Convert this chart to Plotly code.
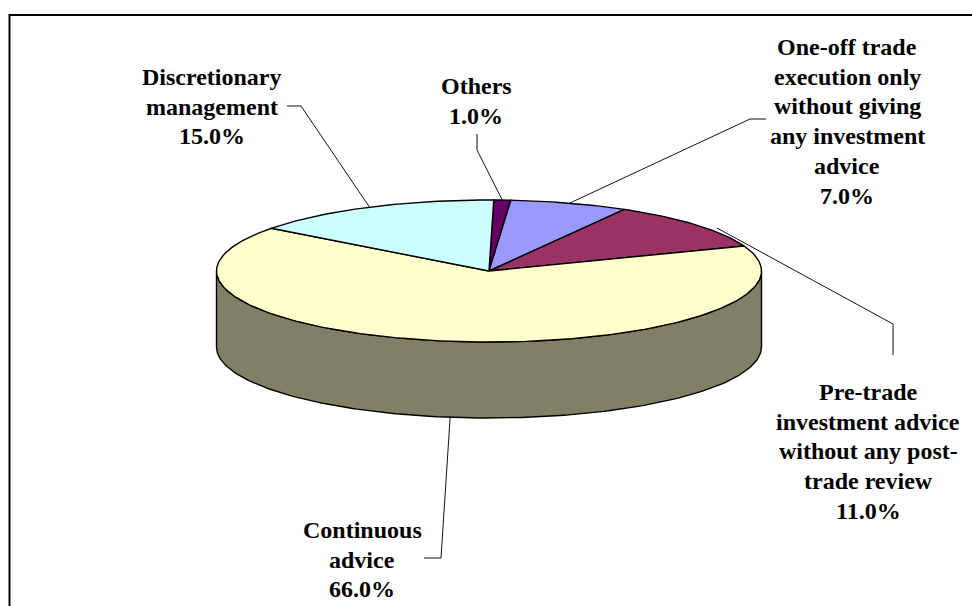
import numpy as np
import plotly.graph_objects as go

categories = ["Others", "One-off trade execution only without giving any investment advice",
              "Pre-trade investment advice without any post-trade review",
              "Continuous advice", "Discretionary management"]
values = [1.0, 7.0, 11.0, 66.0, 15.0]
label_lines = [["Others"],
               ["One-off trade", "execution only", "without giving", "any investment", "advice"],
               ["Pre-trade", "investment advice", "without any post-", "trade review"],
               ["Continuous", "advice"],
               ["Discretionary", "management"]]
colors = ["#660066", "#9999FF", "#993366", "#FFFFCC", "#CCFFFF"]
side_color = "#808066"

# geometry of the tilted disc, in page pixels
W, H = 972, 606
CX, CY, RX, RY, DEPTH = 489, 271, 272.5, 71, 76
START = 1.0
FONT_SIZE = 24
LINE_PITCH = 29.7
label_pos = [(476, 86), (847, 47), (868, 392), (362, 530), (212, 77)]
# elbow points of the leader lines, from text to elbow to pie
leader_start = [(477, 134), (766, 119), (893, 355), (424, 558), (287, 106)]
leader_elbow = [(477, 150), (750, 119), (893, 324), (441, 558), (301, 106)]
leader_end = [None, None, (717, 228), None, None]


def pt(deg, drop=0.0):
    r = np.radians(deg)
    return CX + RX * np.sin(r), CY - RY * np.cos(r) + drop


fig = go.Figure()

# side wall (front half of the disc)
a = np.linspace(90, 270, 181)
x1, y1 = pt(a)
x2, y2 = pt(a[::-1], DEPTH)
fig.add_trace(go.Scatter(x=np.r_[x1, x2, x1[0]], y=np.r_[y1, y2, y1[0]], mode="lines",
                         fill="toself", fillcolor=side_color,
                         line=dict(color="black", width=1.4), hoverinfo="skip", showlegend=False))

# slices
edges = START + np.r_[0, np.cumsum(values)] * 3.6
mids = (edges[:-1] + edges[1:]) / 2
for i, c in enumerate(categories):
    a = np.linspace(edges[i], edges[i + 1], max(3, int(values[i] * 3.6) + 2))
    x, y = pt(a)
    fig.add_trace(go.Scatter(x=np.r_[CX, x, CX], y=np.r_[CY, y, CY], mode="lines",
                             fill="toself", fillcolor=colors[i],
                             line=dict(color="black", width=1.4),
                             name=c, text=f"{values[i]:.1f}%", hoverinfo="name+text", showlegend=False))

# leader lines
for i in range(len(values)):
    if leader_end[i] is not None:
        ex, ey = leader_end[i]
    else:
        # front slice: the line reaches the bottom edge of the wall
        drop = DEPTH if np.cos(np.radians(mids[i])) < 0 else 0
        ex, ey = pt(mids[i], drop)
    fig.add_trace(go.Scatter(x=[leader_start[i][0], leader_elbow[i][0], ex],
                             y=[leader_start[i][1], leader_elbow[i][1], ey],
                             mode="lines", line=dict(color="#111111", width=1),
                             hoverinfo="skip", showlegend=False))

# labels: one annotation per line, so the line pitch can follow the reference
annotations = []
for i in range(len(values)):
    lines = label_lines[i] + [f"{values[i]:.1f}%"]
    for j, line in enumerate(lines):
        annotations.append(dict(x=label_pos[i][0], y=label_pos[i][1] + j * LINE_PITCH, text=f"<b>{line}</b>",
                                xref="x", yref="y", showarrow=False, xanchor="center", yanchor="middle",
                                align="center", font=dict(family="Liberation Serif", size=FONT_SIZE, color="black")))

fig.update_layout(
    width=W, height=H, margin=dict(l=0, r=0, t=0, b=0, pad=0),
    autosize=False,
    paper_bgcolor="white", plot_bgcolor="white",
    xaxis=dict(range=[0, W], visible=False, fixedrange=True),
    yaxis=dict(range=[H, 0], visible=False, fixedrange=True),
    annotations=annotations,
    shapes=[dict(type="rect", x0=9.5, y0=15, x1=W + 20, y1=H + 20, xref="x", yref="y",
                 line=dict(color="black", width=2), layer="below")],
    showlegend=False,
)
fig.write_html("out.html", config={"displayModeBar": False},
               post_script="document.body.style.margin='0';document.documentElement.style.overflow='hidden';")
